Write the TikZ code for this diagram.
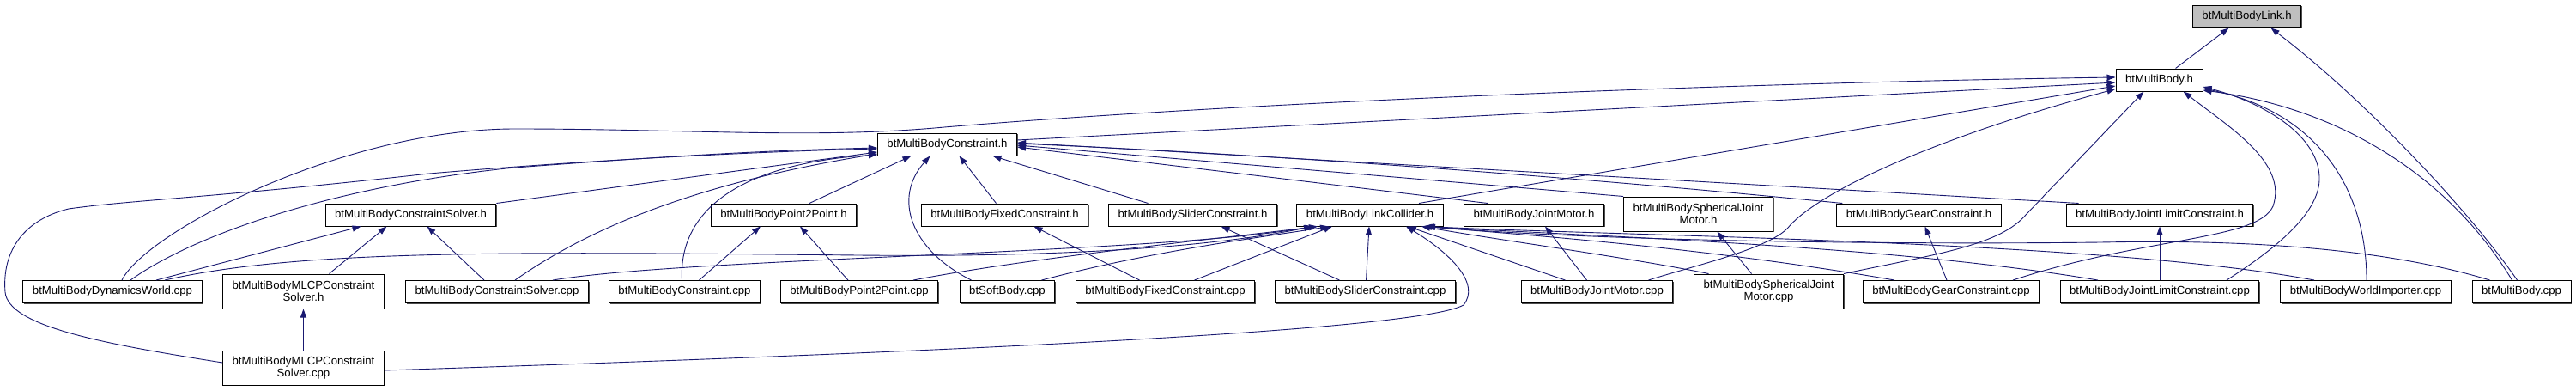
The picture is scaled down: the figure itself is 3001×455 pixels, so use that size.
\documentclass[tikz,border=0pt]{standalone}
\usepackage{fontspec}
\setmainfont{Liberation Sans}
\usetikzlibrary{arrows.meta,shadows}

\begin{document}
\begin{tikzpicture}[
      x=1pt, y=-1pt,
      font=\fontsize{13.2pt}{14.5pt}\selectfont,
      filebox/.style={rectangle, draw=black, fill=white, line width=1pt,
        inner xsep=11pt, inner ysep=2pt, minimum height=26pt, align=center,
        drop shadow={shadow xshift=1.2pt, shadow yshift=-1.2pt, fill=black!70, opacity=1}},
      twoline/.style={filebox, minimum height=40pt},
      curfile/.style={filebox, fill=curgray},
      dep/.style={-{Triangle[length=10pt,width=7pt]}, line width=0.9pt, depblue},
    ]
    \definecolor{depblue}{RGB}{25,25,112}
    \definecolor{curgray}{RGB}{191,191,191}

    \path[use as bounding box, fill=white] (0,0) rectangle (3001,455);

    \node[curfile] (link) at (2617.5,19) {btMultiBodyLink.h};
    \node[filebox] (body) at (2515.5,93) {btMultiBody.h};
    \node[filebox] (constraint) at (1103.5,168) {btMultiBodyConstraint.h};

    \node[filebox] (solverh)   at (478.5,250)  {btMultiBodyConstraintSolver.h};
    \node[filebox] (p2ph)      at (913,250)    {btMultiBodyPoint2Point.h};
    \node[filebox] (fixedh)    at (1170.5,250) {btMultiBodyFixedConstraint.h};
    \node[filebox] (sliderh)   at (1389.5,250) {btMultiBodySliderConstraint.h};
    \node[filebox] (colliderh) at (1596,250)   {btMultiBodyLinkCollider.h};
    \node[filebox] (motorh)    at (1787,250)   {btMultiBodyJointMotor.h};
    \node[twoline] (spherh)    at (1978.5,249) {btMultiBodySphericalJoint\\Motor.h};
    \node[filebox] (gearh)     at (2235.5,250) {btMultiBodyGearConstraint.h};
    \node[filebox] (limith)    at (2516,250)   {btMultiBodyJointLimitConstraint.h};

    \node[filebox] (world)         at (131,339.5)    {btMultiBodyDynamicsWorld.cpp};
    \node[twoline] (mlcph)         at (353.5,339)    {btMultiBodyMLCPConstraint\\Solver.h};
    \node[filebox] (solvercpp)     at (579,339.5)    {btMultiBodyConstraintSolver.cpp};
    \node[filebox] (constraintcpp) at (797.5,339.5)  {btMultiBodyConstraint.cpp};
    \node[filebox] (p2pcpp)        at (1001,339.5)   {btMultiBodyPoint2Point.cpp};
    \node[filebox] (softbody)      at (1173.5,339.5) {btSoftBody.cpp};
    \node[filebox] (fixedcpp)      at (1357.5,339.5) {btMultiBodyFixedConstraint.cpp};
    \node[filebox] (slidercpp)     at (1590.5,339.5) {btMultiBodySliderConstraint.cpp};
    \node[filebox] (motorcpp)      at (1860.5,339.5) {btMultiBodyJointMotor.cpp};
    \node[twoline] (sphercpp)      at (2060.5,339)   {btMultiBodySphericalJoint\\Motor.cpp};
    \node[filebox] (gearcpp)       at (2273,339.5)   {btMultiBodyGearConstraint.cpp};
    \node[filebox] (limitcpp)      at (2516,339.5)   {btMultiBodyJointLimitConstraint.cpp};
    \node[filebox] (importer)      at (2756,339.5)   {btMultiBodyWorldImporter.cpp};
    \node[filebox] (bodycpp)       at (2937.5,339.5) {btMultiBody.cpp};

    \node[twoline] (mlcpcpp) at (353.5,428) {btMultiBodyMLCPConstraint\\Solver.cpp};

    % into btMultiBodyLink.h
    \draw[dep] ([xshift=19pt]body.north) -- ([xshift=-21pt]link.south);
    \draw[dep] ([xshift=-5pt]bodycpp.north) .. controls (2880,250) and (2760,120) .. ([xshift=28pt]link.south);

    % into btMultiBody.h
    \draw[dep] ([yshift=5pt]constraint.east) -- ([yshift=-3pt]body.west);
    \draw[dep] ([xshift=11pt]world.north) .. controls (170,270) and (400,150) .. (600,150)
      .. controls (800,150) and (950,162) .. (1100,148)
      .. controls (1500,115) and (2100,95) .. ([yshift=3pt]body.west);
    \draw[dep] ([xshift=57pt]colliderh.north) -- ([yshift=-7pt]body.west);
    \draw[dep] ([xshift=60pt]motorcpp.north) .. controls (1970,310) and (2060,290) .. (2083,265)
      .. controls (2110,232) and (2220,170) .. ([yshift=3pt]body.south west);
    \draw[dep] (sphercpp.north east) .. controls (2260,295) and (2330,285) .. (2360,250)
      -- ([xshift=-18pt]body.south);
    \draw[dep] ([xshift=72pt]gearcpp.north) .. controls (2500,275) and (2630,280) .. (2648,240)
      .. controls (2665,190) and (2600,150) .. ([xshift=28pt]body.south);
    \draw[dep] ([xshift=78pt]limitcpp.north) .. controls (2650,290) and (2700,250) .. (2702,210)
      .. controls (2704,160) and (2640,120) .. ([yshift=-8pt]body.east);
    \draw[dep] ([xshift=1pt]importer.north) .. controls (2757,220) and (2700,130) .. ([yshift=-10pt]body.east);
    \draw[dep] ([xshift=-11pt]bodycpp.north) .. controls (2850,200) and (2720,125) .. ([yshift=-12pt]body.east);

    % into btMultiBodyConstraint.h
    \draw[dep] ([xshift=21pt]world.north) .. controls (230,270) and (400,215) .. (600,195)
      .. controls (800,180) and (900,175) .. ([yshift=-4pt]constraint.west);
    \draw[dep] ([yshift=6pt]mlcpcpp.west) .. controls (120,400) and (10,380) .. (6,340)
      .. controls (2,290) and (30,255) .. (80,243)
      .. controls (150,233) and (250,230) .. (500,202)
      .. controls (700,185) and (900,176) .. ([yshift=-5pt]constraint.west);
    \draw[dep] (solverh.north east) -- ([yshift=-9pt]constraint.west);
    \draw[dep] ([xshift=21pt]solvercpp.north) .. controls (680,270) and (800,215) .. ([yshift=-11pt]constraint.west);
    \draw[dep] ([xshift=-3pt]constraintcpp.north) .. controls (790,240) and (870,190) .. ([yshift=-12pt]constraint.west);
    \draw[dep] ([xshift=30pt]p2ph.north) -- ([xshift=-42pt]constraint.south);
    \draw[dep] ([xshift=-42pt]softbody.north) .. controls (1060,290) and (1040,230) .. ([xshift=-20pt]constraint.south);
    \draw[dep] ([xshift=-10pt]fixedh.north) -- ([xshift=14pt]constraint.south);
    \draw[dep] ([xshift=-52pt]sliderh.north) -- ([xshift=53pt]constraint.south);
    \draw[dep] ([xshift=-54pt]motorh.north) -- ([yshift=-3pt]constraint.east);
    \draw[dep] (spherh.north west) -- ([yshift=-1pt]constraint.east);
    \draw[dep] ([xshift=7pt]gearh.north west) .. controls (2000,222) and (1600,185) .. ([yshift=1pt]constraint.east);
    \draw[dep] ([xshift=15pt]limith.north west) -- ([yshift=2pt]constraint.east);

    % into btMultiBodyConstraintSolver.h and its MLCP header
    \draw[dep] ([xshift=51pt]world.north) -- ([xshift=-58pt]solverh.south);
    \draw[dep] ([xshift=30pt]mlcph.north) -- ([xshift=-28pt]solverh.south);
    \draw[dep] ([xshift=-15pt]solvercpp.north) -- ([xshift=19pt]solverh.south);
    \draw[dep] (mlcpcpp) -- (mlcph);

    % into the other headers
    \draw[dep] ([xshift=17pt]constraintcpp.north) -- ([xshift=-27pt]p2ph.south);
    \draw[dep] ([xshift=-13pt]p2pcpp.north) -- ([xshift=19pt]p2ph.south);
    \draw[dep] ([xshift=-30pt]fixedcpp.north) -- ([xshift=34pt]fixedh.south);
    \draw[dep] ([xshift=-30pt]slidercpp.north) -- ([xshift=33pt]sliderh.south);
    \draw[dep] ([xshift=-12pt]motorcpp.north) -- ([xshift=13pt]motorh.south);
    \draw[dep] ([xshift=-20pt]sphercpp.north) -- ([xshift=22pt]spherh.south);
    \draw[dep] ([xshift=-5pt]gearcpp.north) -- ([xshift=7pt]gearh.south);
    \draw[dep] (limitcpp) -- (limith);

    % into btMultiBodyLinkCollider.h
    \draw[dep] ([xshift=61pt]world.north) .. controls (350,290) and (600,293) .. (1000,297)
      .. controls (1300,300) and (1450,280) .. ([xshift=-67pt]colliderh.south);
    \draw[dep] ([xshift=65pt]solvercpp.north) .. controls (800,300) and (1350,295) .. ([xshift=-66pt]colliderh.south);
    \draw[dep] ([yshift=-3pt]mlcpcpp.east) .. controls (1100,410) and (1650,385) .. (1705,355)
      .. controls (1725,330) and (1690,295) .. ([xshift=42pt]colliderh.south);
    \draw[dep] ([xshift=63pt]p2pcpp.north) .. controls (1200,300) and (1400,280) .. ([xshift=-61pt]colliderh.south);
    \draw[dep] ([xshift=40pt]softbody.north) .. controls (1350,290) and (1480,275) .. ([xshift=-48pt]colliderh.south);
    \draw[dep] ([xshift=34pt]fixedcpp.north) -- ([xshift=-44pt]colliderh.south);
    \draw[dep] ([xshift=1pt]slidercpp.north) -- ([xshift=-1pt]colliderh.south);
    \draw[dep] ([xshift=-37pt]motorcpp.north) -- ([xshift=44pt]colliderh.south);
    \draw[dep] ([xshift=-70pt]sphercpp.north) .. controls (1900,300) and (1750,280) .. ([xshift=60pt]colliderh.south);
    \draw[dep] ([xshift=-66pt]gearcpp.north) .. controls (2000,290) and (1800,275) .. ([xshift=62pt]colliderh.south);
    \draw[dep] ([xshift=-72pt]limitcpp.north) .. controls (2200,285) and (1850,275) .. ([xshift=64pt]colliderh.south);
    \draw[dep] ([xshift=-60pt]importer.north) .. controls (2450,280) and (1900,275) .. ([xshift=65pt]colliderh.south);
    \draw[dep] ([xshift=-37pt]bodycpp.north) .. controls (2750,280) and (2550,280) .. (2447,282)
      .. controls (2200,285) and (1850,280) .. ([xshift=66pt]colliderh.south);
  \end{tikzpicture}
\end{document}
